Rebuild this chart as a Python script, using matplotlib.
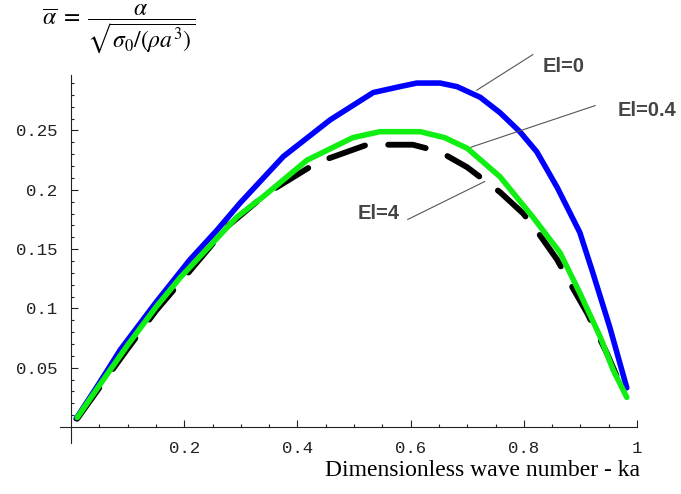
import matplotlib.pyplot as plt
import numpy as np
from matplotlib.ticker import FixedLocator

plt.rcParams['mathtext.fontset'] = 'stix'

# El=0 (blue)
ka_el0 = [0.009, 0.05, 0.087, 0.15, 0.21, 0.258, 0.299, 0.375, 0.458, 0.534, 0.581,
          0.611, 0.652, 0.682, 0.723, 0.758, 0.793, 0.823, 0.859, 0.899, 0.922, 0.952, 0.982]
alpha_el0 = [0.007, 0.037, 0.065, 0.105, 0.141, 0.166, 0.189, 0.228, 0.259, 0.282, 0.287,
             0.290, 0.290, 0.287, 0.278, 0.265, 0.249, 0.232, 0.202, 0.164, 0.130, 0.084, 0.033]

# El=0.4 (green)
ka_el04 = [0.011, 0.05, 0.1, 0.15, 0.193, 0.24, 0.293, 0.339, 0.417, 0.498, 0.546, 0.617,
           0.660, 0.700, 0.758, 0.816, 0.864, 0.899, 0.935, 0.958, 0.982]
alpha_el04 = [0.008, 0.035, 0.069, 0.101, 0.126, 0.150, 0.177, 0.194, 0.225, 0.244, 0.249, 0.249,
              0.244, 0.235, 0.211, 0.177, 0.147, 0.113, 0.076, 0.048, 0.025]

# El=4 (black dashed)
ka_el4 = [0.011, 0.05, 0.1, 0.15, 0.216, 0.276, 0.346, 0.435, 0.523, 0.604, 0.652, 0.700,
          0.758, 0.799, 0.825, 0.859, 0.882, 0.912, 0.947, 0.975]
alpha_el4 = [0.007, 0.033, 0.066, 0.098, 0.135, 0.169, 0.197, 0.223, 0.238, 0.238, 0.232, 0.219,
             0.198, 0.180, 0.164, 0.141, 0.121, 0.096, 0.062, 0.031]

x_major = [0.2, 0.4, 0.6, 0.8, 1.0]
x_labels = ["0.2", "0.4", "0.6", "0.8", "1"]
y_major = [0.05, 0.1, 0.15, 0.2, 0.25]
y_labels = ["0.05", "0.1", "0.15", "0.2", "0.25"]

W, H = 681, 494
fig = plt.figure(figsize=(W / 100, H / 100), dpi=100)

# axes box in pixels: x=-0.02..1.0, y=-0.0135..0.297
x0, x1 = -0.02, 1.0
y0, y1 = -0.0135, 0.297
left_px = 71 + 566 * x0
right_px = 71 + 566 * x1
top_px = 427 - 1186 * y1
bot_px = 427 - 1186 * y0
ax = fig.add_axes([left_px / W, 1 - bot_px / H, (right_px - left_px) / W, (bot_px - top_px) / H])
ax.set_xlim(x0, x1)
ax.set_ylim(y0, y1)

ax.plot(ka_el0, alpha_el0, color='#0000ff', lw=4, solid_capstyle='round',
        solid_joinstyle='round', zorder=2)
ax.plot(ka_el4, alpha_el4, color='black', lw=4.2, dashes=(6.5, 4), dash_capstyle='round',
        dash_joinstyle='round', zorder=3)
ax.plot(ka_el04, alpha_el04, color='#11ee11', lw=4, solid_capstyle='round',
        solid_joinstyle='round', zorder=4)

for s in ['top', 'right']:
    ax.spines[s].set_visible(False)
ax.spines['left'].set_position(('data', 0))
ax.spines['bottom'].set_position(('data', 0))
for s in ['left', 'bottom']:
    ax.spines[s].set_linewidth(0.8)
    ax.spines[s].set_color('#222222')

ax.xaxis.set_major_locator(FixedLocator(x_major))
ax.set_xticklabels(x_labels)
ax.xaxis.set_minor_locator(FixedLocator([v for v in np.arange(0.05, 1.0, 0.05) if abs(v / 0.2 - round(v / 0.2)) > 1e-6]))
ax.yaxis.set_major_locator(FixedLocator(y_major))
ax.set_yticklabels(y_labels)
ax.yaxis.set_minor_locator(FixedLocator([v for v in np.arange(0.01, 0.295, 0.01) if abs(v / 0.05 - round(v / 0.05)) > 1e-6]))

ax.tick_params(which='both', direction='in', color='#222222', width=0.8)
ax.tick_params(which='major', length=5)
ax.tick_params(which='minor', length=2.5)
ax.tick_params(axis='x', which='major', pad=10)
ax.tick_params(axis='y', which='major', pad=10)
for lab in ax.get_xticklabels() + ax.get_yticklabels():
    lab.set_family('Liberation Mono')
    lab.set_fontsize(12.5)
    lab.set_color('#222222')

# leader lines and labels
lc = '#555555'
ax.plot([0.717, 0.816], [0.284, 0.314], color=lc, lw=0.8, clip_on=False)
ax.plot([0.701, 0.926], [0.235, 0.271], color=lc, lw=0.8, clip_on=False)
ax.plot([0.595, 0.731], [0.175, 0.207], color=lc, lw=0.8, clip_on=False)
lab_kw = dict(family='Liberation Sans', weight='bold', fontsize=14.5, color='#444444',
              va='center', ha='left', clip_on=False)
ax.text(0.834, 0.304, 'El=0', **lab_kw)
ax.text(0.965, 0.267, 'El=0.4', **lab_kw)
ax.text(0.507, 0.180, 'El=4', **lab_kw)

fig.text(42 / W, 1 - 29 / H, r'$\overline{\alpha}\;=\;\dfrac{\alpha}{\sqrt{\sigma_0/(\rho a^3)}}$',
         fontsize=17, va='center', ha='left')
fig.text(640 / W, 1 - 470 / H, 'Dimensionless wave number - ka', family='Liberation Serif',
         fontsize=17, ha='right', va='center')

fig.savefig('out.png', dpi=100)
